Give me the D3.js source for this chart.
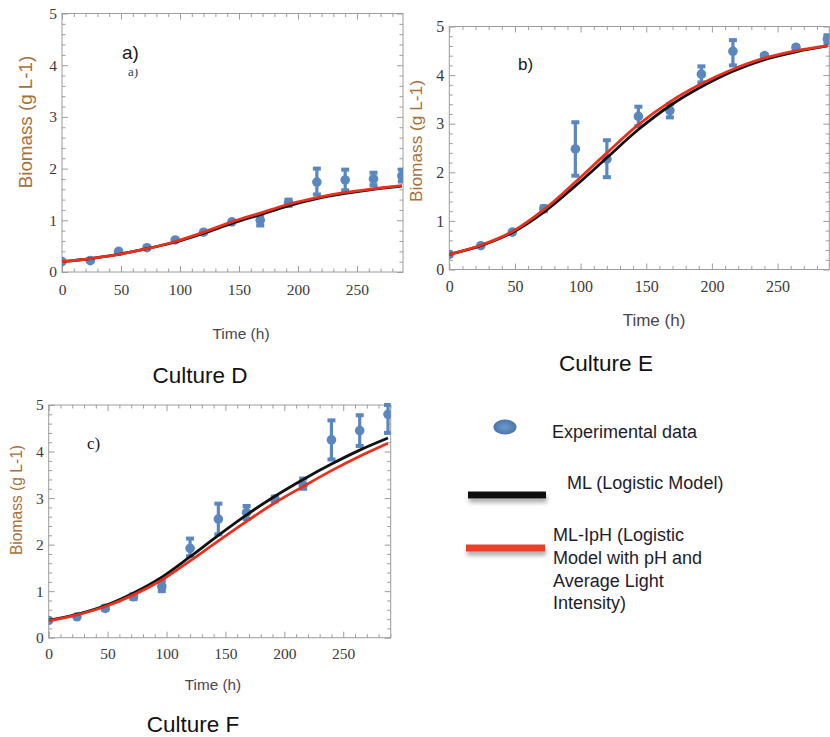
<!DOCTYPE html>
<html>
<head>
<meta charset="utf-8">
<script src="https://cdn.jsdelivr.net/npm/d3@7"></script>
<style>
  body { margin: 0; background: #fff; }
  svg { display: block; }
</style>
</head>
<body>
<div id="chart"></div>
<script>
let svgWidth = 830;
let svgHeight = 737;

// Data =========================

let times = [0, 24, 48, 72, 96, 120, 144, 168, 192, 216, 240, 264, 288];
let xTickValues = [0, 50, 100, 150, 200, 250];
let yTickValues = [0, 1, 2, 3, 4, 5];

// Culture D
let dExp = [0.2, 0.22, 0.4, 0.47, 0.62, 0.77, 0.97, 1.0, 1.34, 1.74, 1.78, 1.8, 1.86];
let dLow = [0.2, 0.22, 0.4, 0.47, 0.62, 0.77, 0.97, 0.9, 1.28, 1.5, 1.58, 1.68, 1.75];
let dHigh = [0.2, 0.22, 0.4, 0.47, 0.62, 0.77, 0.97, 1.1, 1.4, 2.0, 1.98, 1.92, 1.98];
let dML = [0.2, 0.26, 0.34, 0.45, 0.58, 0.75, 0.94, 1.11, 1.28, 1.42, 1.52, 1.6, 1.66];
let dMLIpH = [0.2, 0.26, 0.34, 0.45, 0.59, 0.77, 0.97, 1.14, 1.31, 1.44, 1.54, 1.61, 1.67];

// Culture E
let eExp = [0.31, 0.49, 0.77, 1.25, 2.48, 2.27, 3.15, 3.27, 4.02, 4.49, 4.4, 4.57, 4.74];
let eLow = [0.31, 0.49, 0.77, 1.2, 1.93, 1.9, 2.95, 3.13, 3.85, 4.2, 4.38, 4.52, 4.65];
let eHigh = [0.31, 0.49, 0.77, 1.3, 3.03, 2.66, 3.35, 3.4, 4.18, 4.72, 4.42, 4.6, 4.82];
let eML = [0.31, 0.49, 0.76, 1.18, 1.72, 2.3, 2.88, 3.37, 3.76, 4.08, 4.32, 4.48, 4.6];
let eMLIpH = [0.31, 0.5, 0.78, 1.23, 1.8, 2.4, 2.98, 3.45, 3.82, 4.12, 4.35, 4.5, 4.6];

// Culture F
let fExp = [0.37, 0.45, 0.63, 0.88, 1.1, 1.92, 2.55, 2.69, 2.98, 3.28, 4.25, 4.45, 4.8];
let fLow = [0.37, 0.45, 0.6, 0.83, 1.0, 1.75, 2.22, 2.55, 2.93, 3.2, 3.83, 4.12, 4.4];
let fHigh = [0.37, 0.45, 0.68, 0.93, 1.22, 2.13, 2.88, 2.83, 3.03, 3.42, 4.67, 4.78, 5.0];
let fML = [0.37, 0.5, 0.69, 0.96, 1.3, 1.74, 2.2, 2.64, 3.04, 3.4, 3.73, 4.03, 4.29];
let fMLIpH = [0.36, 0.49, 0.67, 0.92, 1.24, 1.65, 2.08, 2.5, 2.9, 3.25, 3.59, 3.9, 4.18];

let legendLabels = ["Experimental data", "ML (Logistic Model)",
  ["ML-IpH (Logistic", "Model with pH and", "Average Light", "Intensity)"]];

// Colors
let pointColor = "#5b87bf";
let mlColor = "#111111";
let mlIpHColor = "#e8301e";
let frameColor = "#9c9c9c";
let titleColor = "#a8703a";
let serif = '"Liberation Serif", "Times New Roman", serif';
let sans = '"Liberation Sans", Arial, sans-serif';

let svg = d3.select("#chart").append("svg").attr("width", svgWidth).attr("height", svgHeight);
let defs = svg.append("defs");

let shadow = defs.append("filter").attr("id", "shadow")
  .attr("x", "-10%").attr("y", "-100%").attr("width", "120%").attr("height", "400%");
shadow.append("feDropShadow")
  .attr("dx", 1).attr("dy", 4).attr("stdDeviation", 2)
  .attr("flood-color", "#777").attr("flood-opacity", 0.6);

let grad = defs.append("radialGradient").attr("id", "dotGrad");
grad.append("stop").attr("offset", "0%").attr("stop-color", "#6f9ace");
grad.append("stop").attr("offset", "100%").attr("stop-color", "#4a75a8");

// Panels =================

let panels = [
  {
    id: "D", exp: dExp, low: dLow, high: dHigh, ml: dML, mlIpH: dMLIpH,
    left: 62, right: 403, top: 13.5, bottom: 272, xMax: 289,
    xPad: 12, yPad: 5, tickFont: 15.5,
    yTitle: { x: 25, y: 122, size: 18.8 },
    xTitle: { x: 241, y: 334, size: 15.5 },
    caption: { x: 200, y: 375, text: "Culture D" },
    tag: { x: 122, y: 52, text: "a)", size: 19, family: sans }
  },
  {
    id: "E", exp: eExp, low: eLow, high: eHigh, ml: eML, mlIpH: eMLIpH,
    left: 449.3, right: 829.3, top: 26.5, bottom: 269.5, xMax: 289.4,
    xPad: 11, yPad: 5, tickFont: 16,
    yTitle: { x: 415.5, y: 141, size: 17.3 },
    xTitle: { x: 654, y: 320, size: 17 },
    caption: { x: 606, y: 363, text: "Culture E" },
    tag: { x: 518, y: 64, text: "b)", size: 17, family: sans }
  },
  {
    id: "F", exp: fExp, low: fLow, high: fHigh, ml: fML, mlIpH: fMLIpH,
    left: 48.7, right: 390.7, top: 405, bottom: 637.7, xMax: 290.3,
    xPad: 10, yPad: 5, tickFont: 15.5,
    yTitle: { x: 17, y: 500, size: 15.6 },
    xTitle: { x: 213, y: 685, size: 15.3 },
    caption: { x: 193, y: 724, text: "Culture F" },
    tag: { x: 87, y: 443, text: "c)", size: 17, family: serif }
  }
];

let styleAxis = (g, size) => {
  g.select(".domain").remove();
  g.selectAll("line").attr("stroke", frameColor);
  g.selectAll("text")
    .style("font-family", serif)
    .style("font-size", size + "px")
    .attr("fill", "#3a3a3a");
}

let drawPanel = p => {
  let x = d3.scaleLinear().domain([0, p.xMax]).range([p.left, p.right]);
  let y = d3.scaleLinear().domain([0, 5]).range([p.bottom, p.top]);
  let g = svg.append("g").attr("class", "panel-" + p.id);

  let xMinor = d3.range(0, p.xMax, 10).filter(v => v % 50 !== 0);
  let yMinor = d3.range(1, 25).map(v => v / 5).filter(v => Math.abs(v - Math.round(v)) > 0.01);
  let fmt = d3.format("d");

  // frame ticks, all four sides, pointing in
  g.append("g").attr("transform", `translate(0, ${p.bottom})`)
    .call(d3.axisBottom(x).tickValues(xTickValues).tickFormat(fmt).tickSize(-6).tickPadding(p.xPad))
    .call(a => styleAxis(a, p.tickFont));
  g.append("g").attr("transform", `translate(0, ${p.bottom})`)
    .call(d3.axisBottom(x).tickValues(xMinor).tickSize(-3.5).tickFormat(""))
    .call(a => styleAxis(a, p.tickFont));
  g.append("g").attr("transform", `translate(0, ${p.top})`)
    .call(d3.axisTop(x).tickValues(xTickValues).tickSize(-6).tickFormat(""))
    .call(a => styleAxis(a, p.tickFont));
  g.append("g").attr("transform", `translate(0, ${p.top})`)
    .call(d3.axisTop(x).tickValues(xMinor).tickSize(-3.5).tickFormat(""))
    .call(a => styleAxis(a, p.tickFont));
  g.append("g").attr("transform", `translate(${p.left}, 0)`)
    .call(d3.axisLeft(y).tickValues(yTickValues).tickFormat(fmt).tickSize(-6).tickPadding(p.yPad))
    .call(a => styleAxis(a, p.tickFont));
  g.append("g").attr("transform", `translate(${p.left}, 0)`)
    .call(d3.axisLeft(y).tickValues(yMinor).tickSize(-3.5).tickFormat(""))
    .call(a => styleAxis(a, p.tickFont));
  g.append("g").attr("transform", `translate(${p.right}, 0)`)
    .call(d3.axisRight(y).tickValues(yTickValues).tickSize(-6).tickFormat(""))
    .call(a => styleAxis(a, p.tickFont));
  g.append("g").attr("transform", `translate(${p.right}, 0)`)
    .call(d3.axisRight(y).tickValues(yMinor).tickSize(-3.5).tickFormat(""))
    .call(a => styleAxis(a, p.tickFont));

  g.append("rect")
    .attr("x", p.left).attr("y", p.top)
    .attr("width", p.right - p.left).attr("height", p.bottom - p.top)
    .attr("fill", "none").attr("stroke", frameColor).attr("stroke-width", 1);

  defs.append("clipPath").attr("id", "clip-" + p.id)
    .append("rect")
    .attr("x", p.left).attr("y", p.top - 2)
    .attr("width", p.right - p.left).attr("height", p.bottom - p.top + 2);

  let plot = g.append("g").attr("clip-path", `url(#clip-${p.id})`);

  let line = vals => d3.line()
    .x((d, i) => x(times[i]))
    .y(d => y(d))
    .curve(d3.curveCatmullRom)(vals);

  // error bars
  let rows = times.map((t, i) => ({ t: t, v: p.exp[i], lo: p.low[i], hi: p.high[i] }));
  let bars = rows.filter(d => d.hi - d.lo > 0.001);
  plot.selectAll(".err").data(bars).enter().append("line")
    .attr("x1", d => x(d.t)).attr("x2", d => x(d.t))
    .attr("y1", d => y(d.lo)).attr("y2", d => y(d.hi))
    .attr("stroke", pointColor).attr("stroke-width", 3.2);
  plot.selectAll(".capLo").data(bars).enter().append("rect")
    .attr("x", d => x(d.t) - 4).attr("y", d => y(d.lo) - 2)
    .attr("width", 8).attr("height", 4).attr("fill", pointColor);
  plot.selectAll(".capHi").data(bars).enter().append("rect")
    .attr("x", d => x(d.t) - 4).attr("y", d => y(d.hi) - 2)
    .attr("width", 8).attr("height", 4).attr("fill", pointColor);

  plot.selectAll(".pt").data(rows).enter().append("circle")
    .attr("cx", d => x(d.t)).attr("cy", d => y(d.v))
    .attr("r", 4.8).attr("fill", pointColor);

  plot.append("path").attr("d", line(p.ml))
    .attr("fill", "none").attr("stroke", mlColor).attr("stroke-width", 2.8);
  plot.append("path").attr("d", line(p.mlIpH))
    .attr("fill", "none").attr("stroke", mlIpHColor).attr("stroke-width", 2.8);

  // texts
  g.append("text")
    .attr("transform", `translate(${p.yTitle.x}, ${p.yTitle.y}) rotate(-90)`)
    .attr("text-anchor", "middle").attr("dy", "0.35em")
    .style("font-family", sans)
    .attr("font-size", p.yTitle.size).attr("fill", titleColor)
    .text("Biomass (g L-1)");

  g.append("text")
    .attr("x", p.xTitle.x).attr("y", p.xTitle.y)
    .attr("text-anchor", "middle").attr("dy", "0.35em")
    .style("font-family", sans)
    .attr("font-size", p.xTitle.size).attr("fill", "#4a4450")
    .text("Time (h)");

  svg.append("text")
    .attr("x", p.caption.x).attr("y", p.caption.y)
    .attr("text-anchor", "middle").attr("dy", "0.35em")
    .style("font-family", sans)
    .attr("font-size", 22.5).attr("fill", "#111")
    .text(p.caption.text);

  g.append("text")
    .attr("x", p.tag.x).attr("y", p.tag.y).attr("dy", "0.35em")
    .style("font-family", p.tag.family)
    .attr("font-size", p.tag.size).attr("fill", "#1a1a1a")
    .text(p.tag.text);
}

panels.forEach(drawPanel);

// faint leftover tag under "a)"
defs.append("clipPath").attr("id", "clip-ghost")
  .append("rect").attr("x", 120).attr("y", 69).attr("width", 30).attr("height", 12);
svg.append("text")
  .attr("x", 128).attr("y", 76)
  .attr("clip-path", "url(#clip-ghost)")
  .style("font-family", serif)
  .attr("font-size", 13).attr("fill", "#2f3a5a")
  .text("a)");

// Legend =================

let legend = svg.append("g").attr("class", "legend")
  .style("font-family", sans)
  .attr("font-size", 18).attr("fill", "#1e1c2c");

legend.append("ellipse")
  .attr("cx", 505).attr("cy", 427).attr("rx", 11.5).attr("ry", 7.5)
  .attr("fill", "url(#dotGrad)");
legend.append("text").attr("x", 552).attr("y", 432).attr("dy", "0.35em")
  .text(legendLabels[0]);

legend.append("rect")
  .attr("x", 468).attr("y", 491.5).attr("width", 78).attr("height", 7)
  .attr("fill", mlColor).attr("filter", "url(#shadow)");
legend.append("text").attr("x", 567).attr("y", 483).attr("dy", "0.35em")
  .text(legendLabels[1]);

legend.append("rect")
  .attr("x", 466).attr("y", 544.5).attr("width", 79).attr("height", 7)
  .attr("fill", "#e8402c").attr("filter", "url(#shadow)");
legendLabels[2].forEach((t, i) => {
  legend.append("text").attr("x", 553).attr("y", 535 + i * 22.7).attr("dy", "0.35em")
    .text(t);
});
</script>
</body>
</html>
